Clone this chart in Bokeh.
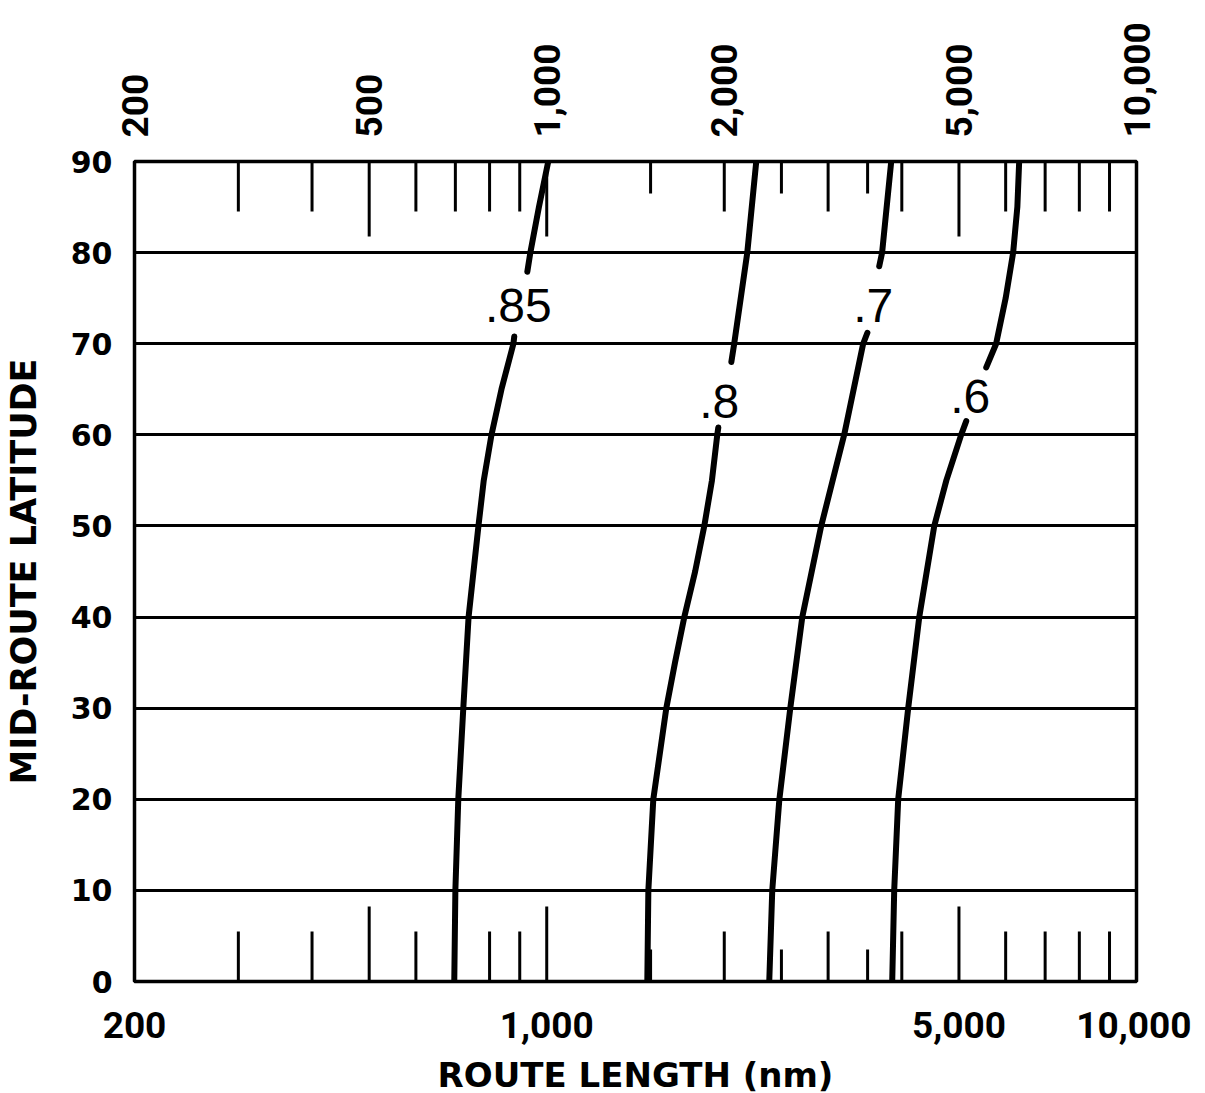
from bokeh.plotting import figure
from bokeh.models import LogAxis, FixedTicker, NumeralTickFormatter
from bokeh.embed import file_html
from bokeh.resources import INLINE
from bokeh.core.properties import value

# ---- data ----
LAT_TICKS = [0, 10, 20, 30, 40, 50, 60, 70, 80, 90]
BOTTOM_LABEL_TICKS = [200, 1000, 5000, 10000]
TOP_LABEL_TICKS = [200, 500, 1000, 2000, 5000, 10000]
MARK_REGULAR = [300, 400, 600, 700, 800, 900, 2000, 3000, 4000, 6000, 7000, 8000, 9000]
MARK_LONG = [500, 1000, 5000]
MARK_SHORT = [1500, 2500, 3500]

# curve .85
LAT_85_LO = [0, 10, 20, 30, 40, 50, 55, 60, 65, 70, 70.8]
X_85_LO = [697, 700, 708, 722, 737, 766, 782, 806, 838, 878, 881]
LAT_85_HI = [77.9, 80, 85, 90]
X_85_HI = [927, 938, 970, 1006]
# curve .8
LAT_80_LO = [0, 10, 20, 30, 35, 40, 45, 50, 55, 60, 60.8]
X_80_LO = [1481, 1487, 1516, 1595, 1650, 1711, 1785, 1850, 1906, 1946, 1954]
LAT_80_HI = [68, 70, 80, 90]
X_80_HI = [2056, 2079, 2188, 2266]
# curve .7
LAT_70_LO = [0, 10, 20, 30, 40, 50, 60, 70, 71.2]
X_70_LO = [2384, 2412, 2480, 2588, 2712, 2920, 3194, 3440, 3497]
LAT_70_HI = [78.5, 80, 90]
X_70_HI = [3662, 3704, 3838]
# curve .6
LAT_60_LO = [0, 10, 20, 30, 40, 50, 55, 60, 61.5]
X_60_LO = [3853, 3883, 3944, 4101, 4282, 4540, 4760, 5043, 5144]
LAT_60_HI = [67.4, 70, 75, 80, 85, 90]
X_60_HI = [5562, 5781, 6000, 6178, 6280, 6325]

CURVE_LABELS = [".85", ".8", ".7", ".6"]
LABEL_X = [895, 1961, 3578, 5224]
LABEL_LAT = [74.2, 63.7, 74.2, 64.2]

X_MIN, X_MAX = 200, 10000
Y_MIN, Y_MAX = 0, 90

BOLD = "DejaVu Sans"
NUM = "Roboto"

p = figure(
    x_axis_type="log", x_range=(X_MIN, X_MAX), y_range=(Y_MIN, Y_MAX),
    frame_width=1002, frame_height=820,
    min_border_left=128, min_border_top=161, min_border_right=55, min_border_bottom=104,
    output_backend="svg", toolbar_location=None,
    background_fill_color="white", border_fill_color="white",
)

# bottom axis
xa = p.xaxis[0]
xa.ticker = FixedTicker(ticks=BOTTOM_LABEL_TICKS)
xa.formatter = NumeralTickFormatter(format="0,0")
xa.axis_label = "ROUTE LENGTH (nm)"

# top axis
top = LogAxis(ticker=FixedTicker(ticks=TOP_LABEL_TICKS),
              formatter=NumeralTickFormatter(format="0,0"),
              major_label_orientation="vertical")
p.add_layout(top, "above")

ya = p.yaxis[0]
ya.ticker = FixedTicker(ticks=LAT_TICKS)
ya.axis_label = "MID-ROUTE LATITUDE"

for ax in [xa, top]:
    ax.major_label_text_font = NUM
    ax.major_label_text_font_style = "bold"
    ax.major_label_text_font_size = "37px"
    ax.major_label_text_color = "black"
xa.major_label_standoff = 24
top.major_label_standoff = 18

ya.major_label_text_font = BOLD
ya.major_label_text_font_style = "bold"
ya.major_label_text_font_size = "30px"
ya.major_label_text_color = "black"
ya.major_label_standoff = 16

xa.axis_label_text_font_size = "34px"
ya.axis_label_text_font_size = "35px"
for ax in [xa, ya]:
    ax.axis_label_text_font = BOLD
    ax.axis_label_text_font_style = "bold"
    ax.axis_label_text_color = "black"
xa.axis_label_standoff = 14
ya.axis_label_standoff = 24

for ax in [xa, top, ya]:
    ax.axis_line_color = None
    ax.major_tick_line_color = None
    ax.minor_tick_line_color = None

p.xgrid.visible = False
p.ygrid.ticker = FixedTicker(ticks=LAT_TICKS)
p.ygrid.grid_line_color = "black"
p.ygrid.grid_line_width = 3

p.outline_line_color = "black"
p.outline_line_width = 3.5

# scale tick marks (bottom rising, top hanging)
for marks, ln in [(MARK_REGULAR, 50), (MARK_LONG, 75), (MARK_SHORT, 32)]:
    p.ray(x=marks, y=[Y_MIN] * len(marks), length=ln, length_units="screen",
          angle=90, angle_units="deg", line_color="black", line_width=3)
    p.ray(x=marks, y=[Y_MAX] * len(marks), length=ln, length_units="screen",
          angle=-90, angle_units="deg", line_color="black", line_width=3)

# curves
for xs, ys in [(X_85_LO, LAT_85_LO), (X_85_HI, LAT_85_HI),
               (X_80_LO, LAT_80_LO), (X_80_HI, LAT_80_HI),
               (X_70_LO, LAT_70_LO), (X_70_HI, LAT_70_HI),
               (X_60_LO, LAT_60_LO), (X_60_HI, LAT_60_HI)]:
    p.line(xs, ys, line_color="black", line_width=6, line_cap="round", line_join="round")

p.text(x=LABEL_X, y=LABEL_LAT, text=CURVE_LABELS,
       text_font=value("Liberation Sans"), text_font_size="48px",
       text_align="center", text_baseline="middle", text_color="black")

open("out.html", "w").write(file_html(p, INLINE))
